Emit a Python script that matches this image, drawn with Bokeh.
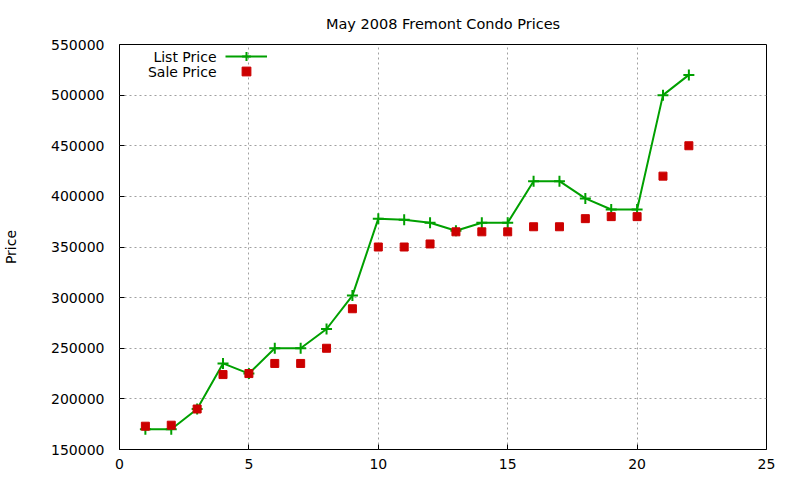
from bokeh.models import Range1d, SingleIntervalTicker, Legend, LegendItem, Label
from bokeh.plotting import figure
from bokeh.embed import file_html
from bokeh.resources import INLINE

# listing number on the x axis
units = list(range(1, 23))
list_price = [170000, 170000, 190000, 235000, 225000, 250000, 250000, 269000,
              302000, 378000, 377000, 374000, 366000, 374000, 374000, 415000,
              415000, 398000, 387000, 387000, 500000, 520000]
sale_price = [173000, 174000, 190000, 224000, 225000, 235000, 235000, 250000,
              289000, 350000, 350000, 353000, 365000, 365000, 365000, 370000,
              370000, 378000, 380000, 380000, 420000, 450000]
series_names = ["List Price", "Sale Price"]

FONT = "DejaVu Sans"
GREEN = "#00a000"
RED = "#cc0000"

p = figure(width=784, height=476, output_backend="svg", toolbar_location=None,
           x_range=Range1d(0, 25), y_range=Range1d(150000, 550000),
           title="May 2008 Fremont Condo Prices",
           min_border_left=119, min_border_right=18,
           min_border_top=44, min_border_bottom=27)

p.title.align = "center"
p.title.text_font = FONT
p.title.text_font_size = "14.5px"
p.title.text_font_style = "normal"
p.title.text_color = "black"
p.title.text_line_height = 1.0
p.title.standoff = 26

p.outline_line_color = "black"
p.outline_line_width = 1
p.outline_line_alpha = 1

p.xaxis.ticker = SingleIntervalTicker(interval=5)
p.yaxis.ticker = SingleIntervalTicker(interval=50000)
p.yaxis.formatter.use_scientific = False
p.yaxis.axis_label = "Price"
p.yaxis.axis_label_standoff = 29
p.yaxis.axis_label_text_font_style = "normal"

for ax in [p.xaxis[0], p.yaxis[0]]:
    ax.major_tick_in = 5
    ax.major_tick_out = 0
    ax.minor_tick_line_color = None
    ax.axis_line_color = None
    ax.major_label_text_font = FONT
    ax.major_label_text_font_size = "14px"
    ax.major_label_text_color = "black"
    ax.axis_label_text_font = FONT
    ax.axis_label_text_font_size = "14px"
    ax.axis_label_text_color = "black"
p.yaxis.major_label_standoff = 11
p.xaxis.major_label_standoff = 5

p.grid.grid_line_color = "#a0a0a0"
p.grid.grid_line_dash = "2 3"
p.grid.grid_line_width = 1

l1 = p.line(units, list_price, line_color=GREEN, line_width=2)
l2 = p.scatter(units, list_price, marker="cross", size=11, line_color=GREEN,
               line_width=2)
s1 = p.scatter(units, sale_price, marker="square", size=8, fill_color=RED,
               line_color=RED)

# gnuplot style key: text on the left (labels), samples on the right (legends)
for rends, bottom in [([l1, l2], 382), ([s1], 367)]:
    key = Legend(items=[LegendItem(label=" ", renderers=rends)],
                 location=(106, bottom), padding=0, margin=0, spacing=0,
                 glyph_width=42, glyph_height=22, label_height=15,
                 label_width=0, label_standoff=0,
                 label_text_font=FONT, label_text_font_size="14px",
                 border_line_color=None, background_fill_alpha=0)
    p.add_layout(key)

for txt, yy in zip(series_names, [393, 378]):
    p.add_layout(Label(x=97, y=yy, x_units="screen", y_units="screen",
                       text=txt, text_align="right", text_baseline="middle",
                       text_font=FONT, text_font_size="14px",
                       text_color="black"))

open("out.html", "w").write(file_html(p, INLINE))
